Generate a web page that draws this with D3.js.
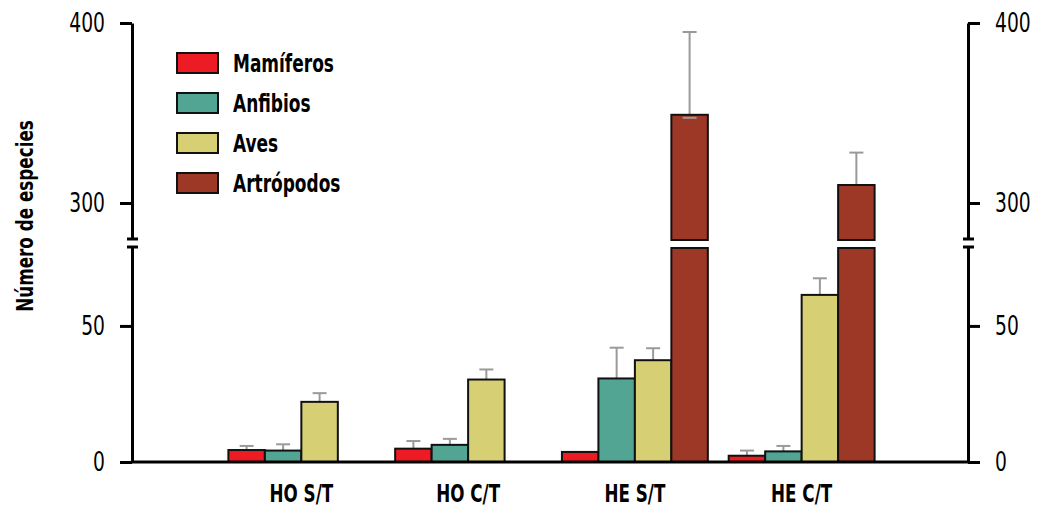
<!DOCTYPE html>
<html>
<head>
<meta charset="utf-8">
<script src="https://cdn.jsdelivr.net/npm/d3@7"></script>
<style>
  body { margin: 0; background: #fff; }
  svg { display: block; font-family: 'DejaVu Sans', sans-serif; }
</style>
</head>
<body>
<div id="chart"></div>
<script>
// data
const categories = ['HO S/T', 'HO C/T', 'HE S/T', 'HE C/T'];
const series = ['Mamíferos', 'Anfibios', 'Aves', 'Artrópodos'];
const colors = ['#ed1c24', '#52a493', '#d7cf73', '#9d3726'];
const mamiferos = [4.4, 4.9, 3.7, 2.3];
const anfibios = [4.2, 6.3, 30.7, 3.9];
const aves = [22.1, 30.3, 37.4, 61.4];
const artropodos = [null, null, 349, 310];
const mamiferosErr = [5.9, 7.7, null, 4.2];
const anfibiosErr = [6.5, 8.5, 42, 5.9];
const avesErr = [25.3, 34, 41.8, 67.5];
const artropodosErr = [null, null, 395, 328];
const lowTicks = [0, 50];
const highTicks = [300, 400];

const values = [mamiferos, anfibios, aves, artropodos];
const errors = [mamiferosErr, anfibiosErr, avesErr, artropodosErr];

const width = 1037, height = 507;
const left = 132, right = 968;
const breakLow = 79, breakHigh = 280;
// no condensed font installed, squeeze text instead
const legendSx = 0.68, labelSx = 0.67, titleSx = 0.73, tickSx = 0.72;

const svg = d3.select('#chart').append('svg')
  .attr('width', width)
  .attr('height', height);

let yLow = d3.scaleLinear().domain([0, breakLow]).range([462, 247]);
let yHigh = d3.scaleLinear().domain([breakHigh, 400]).range([239, 23]);

let x0 = d3.scaleBand().domain(categories).range([left + 3, right])
  .paddingInner(0.125).paddingOuter(0.56);
let x1 = d3.scaleBand().domain(series).range([0, x0.bandwidth()]);

// flatten into one record per bar
let bars = [];
categories.forEach((c, i) => {
  series.forEach((s, j) => {
    let v = values[j][i];
    if (v == null) return;
    bars.push({ cat: c, ser: s, idx: j, value: v, err: errors[j][i] });
  });
});

let bx = d => x0(d.cat) + x1(d.ser);

// error bars first, bars on top
let errG = svg.append('g')
  .attr('stroke', '#9a9a9a')
  .attr('stroke-width', 2);
bars.filter(d => d.err != null).forEach(d => {
  let cx = bx(d) + x1.bandwidth() / 2;
  let scale = d.value > breakLow ? yHigh : yLow;
  let yt = scale(d.err), yb = scale(d.value);
  errG.append('line').attr('x1', cx).attr('x2', cx).attr('y1', yt).attr('y2', yb);
  errG.append('line').attr('x1', cx - 7).attr('x2', cx + 7).attr('y1', yt).attr('y2', yt);
});

let barG = svg.append('g')
  .attr('stroke', '#111')
  .attr('stroke-width', 2);

bars.forEach(d => {
  let x = bx(d), w = x1.bandwidth();
  let fill = colors[d.idx];
  if (d.value > breakLow) {
    // broken bar: two pieces
    barG.append('rect')
      .attr('x', x).attr('width', w)
      .attr('y', yLow(breakLow) + 1).attr('height', yLow(0) - yLow(breakLow) - 1)
      .attr('fill', fill);
    barG.append('rect')
      .attr('x', x).attr('width', w)
      .attr('y', yHigh(d.value)).attr('height', yHigh(breakHigh) - yHigh(d.value) + 1)
      .attr('fill', fill);
  } else {
    barG.append('rect')
      .attr('x', x).attr('width', w)
      .attr('y', yLow(d.value)).attr('height', yLow(0) - yLow(d.value))
      .attr('fill', fill);
  }
});

// small grey cap left visible on the tallest bar
bars.filter(d => d.err != null && d.value > breakLow && d.cat === 'HE S/T').forEach(d => {
  let cx = bx(d) + x1.bandwidth() / 2;
  svg.append('line')
    .attr('x1', cx - 7).attr('x2', cx + 7)
    .attr('y1', yHigh(d.value) + 3).attr('y2', yHigh(d.value) + 3)
    .attr('stroke', '#9a9a9a').attr('stroke-width', 2);
});

// baseline
svg.append('line')
  .attr('x1', left).attr('x2', right)
  .attr('y1', yLow(0)).attr('y2', yLow(0))
  .attr('stroke', '#000').attr('stroke-width', 3);

function styleAxis(g) {
  g.attr('font-size', 26).attr('font-family', 'DejaVu Sans');
  g.select('.domain').attr('stroke-width', 3);
  g.selectAll('.tick line').attr('stroke-width', 3);
  g.selectAll('.tick text')
    .attr('fill', '#000')
    .attr('x', function() { return +d3.select(this).attr('x') / tickSx; })
    .attr('transform', `scale(${tickSx},1)`);
}

[[d3.axisLeft, left], [d3.axisRight, right]].forEach(([axisFn, xpos]) => {
  svg.append('g').attr('transform', `translate(${xpos},0)`)
    .call(axisFn(yLow).tickValues(lowTicks).tickSize(12).tickSizeOuter(0).tickPadding(15))
    .call(styleAxis);
  svg.append('g').attr('transform', `translate(${xpos},0)`)
    .call(axisFn(yHigh).tickValues(highTicks).tickSize(12).tickSizeOuter(0).tickPadding(15))
    .call(styleAxis);
  // break marks
  [yHigh(breakHigh), yLow(breakLow)].forEach(y => {
    svg.append('line')
      .attr('x1', xpos - 5).attr('x2', xpos + 6)
      .attr('y1', y).attr('y2', y)
      .attr('stroke', '#000').attr('stroke-width', 3);
  });
});

// category labels
svg.append('g').selectAll('text')
  .data(categories)
  .join('text')
  .attr('x', d => (x0(d) + x0.bandwidth() / 2) / labelSx)
  .attr('y', 502)
  .attr('transform', `scale(${labelSx},1)`)
  .attr('text-anchor', 'middle')
  .attr('font-size', 25)
  .attr('font-weight', 'bold')
  .text(d => d);

// y title
svg.append('text')
  .attr('transform', `translate(33,216) rotate(-90) scale(${titleSx},1)`)
  .attr('text-anchor', 'middle')
  .attr('font-size', 23)
  .attr('font-weight', 'bold')
  .text('Número de especies');

// legend
let legend = svg.append('g').attr('transform', 'translate(177,53)');
let items = legend.selectAll('g')
  .data(series)
  .join('g')
  .attr('transform', (d, i) => `translate(0,${i * 40})`);
items.append('rect')
  .attr('width', 41).attr('height', 20)
  .attr('fill', (d, i) => colors[i])
  .attr('stroke', '#111').attr('stroke-width', 2);
items.append('text')
  .attr('x', 56 / legendSx).attr('y', 19)
  .attr('transform', `scale(${legendSx},1)`)
  .attr('font-size', 25)
  .attr('font-weight', 'bold')
  .text(d => d);
</script>
</body>
</html>
